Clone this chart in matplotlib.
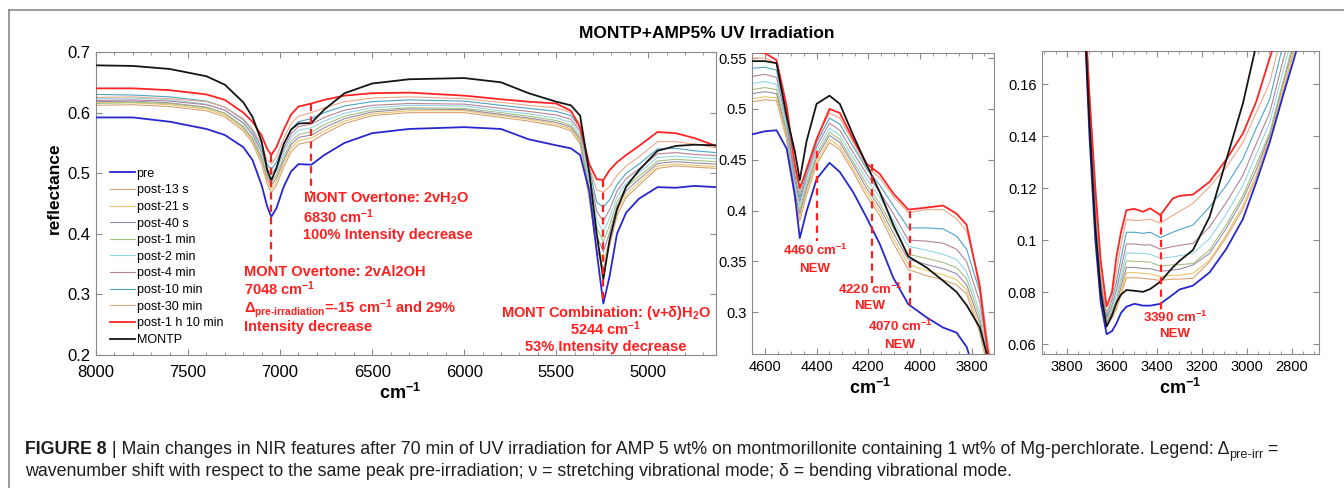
import matplotlib
matplotlib.use("Agg")
import matplotlib.pyplot as plt
from matplotlib.ticker import MultipleLocator, FormatStrFormatter
from matplotlib.lines import Line2D

# series names (legend order)
labels = ["pre", "post-13 s", "post-21 s", "post-40 s", "post-1 min", "post-2 min",
          "post-4 min", "post-10 min", "post-30 min", "post-1 h 10 min", "MONTP"]

# ---- panel a : 8000-4630 cm-1 ----
a_wn = [8000, 7800, 7600, 7400, 7300, 7200, 7150, 7100, 7070, 7048,
        7020, 6980, 6940, 6900, 6830, 6760, 6650, 6500, 6300, 6000,
        5800, 5650, 5500, 5420, 5370, 5320, 5280, 5244, 5210, 5170,
        5120, 5050, 4950, 4850, 4750, 4632]
a_pre = [.592, .592, .585, .573, .563, .543, .522, .480, .445, .428,
         .442, .478, .503, .515, .514, .530, .550, .566, .573, .576,
         .573, .556, .546, .541, .530, .470, .370, .285, .330, .400,
         .435, .458, .477, .476, .479, .477]
a_13s = [.612, .613, .610, .603, .593, .570, .550, .515, .482, .468,
         .480, .510, .535, .548, .552, .565, .582, .595, .600, .600,
         .592, .586, .578, .570, .548, .455, .375, .343, .380, .430,
         .460, .480, .508, .512, .510, .508]
a_21s = [.616, .616, .613, .606, .596, .573, .554, .520, .488, .474,
         .486, .516, .541, .554, .558, .570, .586, .598, .603, .603,
         .595, .589, .581, .573, .552, .462, .385, .354, .390, .437,
         .465, .485, .512, .515, .513, .511]
a_40s = [.618, .619, .616, .609, .599, .576, .557, .524, .493, .480,
         .492, .522, .547, .559, .563, .575, .590, .601, .606, .605,
         .597, .591, .584, .576, .556, .470, .397, .370, .402, .445,
         .471, .490, .516, .519, .517, .515]
a_1m = [.615, .617, .615, .608, .599, .577, .558, .527, .497, .485,
        .497, .527, .552, .564, .568, .580, .594, .604, .608, .607,
        .600, .594, .587, .579, .560, .478, .410, .387, .414, .452,
        .477, .495, .520, .523, .521, .519]
a_2m = [.623, .624, .621, .614, .604, .582, .563, .532, .503, .492,
        .504, .534, .559, .571, .575, .586, .599, .608, .612, .611,
        .603, .598, .591, .584, .565, .488, .423, .403, .426, .461,
        .484, .501, .526, .528, .526, .524]
a_4m = [.620, .621, .619, .613, .604, .583, .565, .536, .508, .498,
        .510, .540, .565, .577, .581, .592, .604, .612, .615, .614,
        .607, .602, .596, .589, .570, .498, .437, .421, .440, .470,
        .491, .507, .532, .534, .531, .529]
a_10m = [.630, .629, .626, .619, .609, .588, .570, .542, .515, .506,
         .518, .548, .573, .585, .590, .600, .611, .618, .621, .619,
         .612, .607, .602, .595, .576, .508, .452, .444, .456, .481,
         .500, .515, .540, .541, .537, .534]
a_30m = [.625, .626, .623, .618, .609, .590, .573, .548, .522, .515,
         .527, .557, .582, .594, .600, .608, .618, .624, .626, .623,
         .617, .612, .608, .600, .582, .510, .472, .469, .478, .496,
         .512, .527, .552, .552, .548, .542]
a_70m = [.640, .640, .637, .630, .621, .600, .585, .562, .540, .530,
         .543, .572, .597, .610, .615, .621, .628, .632, .633, .628,
         .622, .618, .615, .603, .575, .515, .490, .489, .505, .518,
         .530, .545, .568, .566, .558, .545]
a_montp = [.678, .677, .672, .660, .646, .617, .593, .552, .505, .488,
           .508, .548, .572, .582, .583, .605, .632, .648, .655, .657,
           .650, .632, .618, .612, .595, .500, .400, .325, .390, .440,
           .478, .505, .537, .545, .547, .546]

# ---- panel b : 4650-3720 cm-1 ----
b_wn = [4650, 4600, 4555, 4516, 4484, 4465, 4439, 4400, 4350, 4310, 4258,
        4206, 4155, 4103, 4045, 3974, 3910, 3858, 3819, 3768, 3742, 3722]
b_pre = [.475, .478, .479, .461, .415, .373, .399, .431, .447, .438, .418,
         .393, .367, .334, .308, .295, .285, .280, .266, .225, .205, .190]
b_13s = [.507, .509, .508, .470, .410, .390, .415, .445, .467, .460, .438,
         .414, .395, .368, .342, .336, .332, .327, .318, .280, .250, .230]
b_21s = [.510, .512, .511, .473, .414, .393, .418, .448, .470, .463, .441,
         .418, .399, .373, .347, .341, .337, .332, .322, .285, .255, .232]
b_40s = [.515, .517, .515, .477, .418, .397, .422, .452, .474, .467, .445,
         .422, .403, .378, .352, .347, .343, .338, .327, .290, .260, .234]
b_1m = [.519, .521, .519, .480, .422, .400, .426, .455, .477, .470, .448,
        .426, .407, .383, .357, .353, .349, .344, .333, .295, .262, .236]
b_2m = [.525, .527, .524, .484, .426, .405, .430, .459, .481, .474, .452,
        .431, .413, .390, .365, .361, .357, .352, .340, .300, .265, .238]
b_4m = [.532, .534, .531, .488, .430, .409, .434, .463, .486, .479, .457,
        .436, .418, .397, .371, .370, .368, .362, .350, .310, .270, .240]
b_10m = [.540, .541, .538, .492, .435, .413, .438, .467, .491, .485, .463,
         .441, .425, .405, .383, .383, .382, .375, .362, .320, .275, .242]
b_30m = [.550, .550, .545, .498, .440, .417, .442, .471, .496, .491, .467,
         .443, .432, .414, .398, .401, .401, .392, .380, .330, .280, .245]
b_70m = [.557, .555, .548, .503, .445, .422, .440, .470, .500, .496, .470,
         .446, .436, .417, .401, .403, .405, .397, .386, .325, .270, .240]
b_montp = [.547, .547, .545, .493, .458, .430, .468, .505, .513, .505, .474,
           .445, .418, .386, .355, .344, .331, .320, .307, .285, .260, .240]

# ---- panel c : 3910-2680 cm-1 ----
c_wn = [3740, 3700, 3674, 3650, 3624, 3600, 3580, 3560, 3536, 3500,
        3462, 3430, 3385, 3330, 3300, 3240, 3166, 3092, 3018, 2959,
        2899, 2840, 2790, 2740]
c_pre = [.220, .140, .100, .076, .0638, .065, .068, .072, .0744, .0755,
         .0748, .0748, .0755, .079, .081, .0825, .0876, .0966, .1081, .1222,
         .1376, .1555, .170, .185]
c_13s = [.220, .150, .110, .078, .0675, .070, .0735, .079, .0855, .0855,
         .0853, .0850, .0845, .0850, .0850, .0853, .0917, .101, .112, .124,
         .1395, .157, .173, .190]
c_21s = [.220, .151, .111, .079, .068, .071, .0745, .080, .0875, .0875,
         .0872, .0870, .086, .0865, .0865, .0872, .0923, .102, .1133, .125,
         .140, .158, .174, .191]
c_40s = [.220, .152, .112, .080, .0685, .072, .0755, .082, .0895, .0895,
         .0891, .0890, .088, .0885, .0888, .0904, .0949, .1045, .1158, .127,
         .1405, .160, .176, .193]
c_1m = [.220, .153, .113, .081, .069, .073, .077, .084, .092, .0918,
        .0917, .0915, .090, .0905, .0905, .091, .0962, .106, .1172, .129,
        .1414, .161, .177, .194]
c_2m = [.220, .154, .114, .082, .0695, .074, .079, .086, .095, .095,
        .0949, .0945, .093, .0935, .094, .0949, .1006, .110, .121, .133,
        .1452, .165, .181, .198]
c_4m = [.220, .155, .115, .083, .070, .075, .081, .089, .0985, .0985,
        .0981, .0982, .0965, .0975, .098, .0987, .1051, .1145, .1249, .137,
        .149, .169, .185, .202]
c_10m = [.220, .156, .116, .085, .071, .077, .084, .093, .103, .103,
         .1026, .1030, .101, .103, .104, .1058, .1128, .121, .1312, .143,
         .1542, .175, .191, .208]
c_30m = [.220, .158, .118, .087, .072, .078, .088, .098, .108, .1075,
         .1077, .1080, .1065, .1095, .111, .1141, .1205, .128, .1376, .149,
         .1606, .181, .197, .214]
c_70m = [.220, .155, .120, .092, .0745, .080, .0936, .103, .1115, .112,
         .1109, .1122, .1096, .116, .117, .1175, .1224, .131, .141, .1532,
         .170, .185, .200, .215]
c_montp = [.220, .145, .105, .080, .0667, .071, .076, .079, .0808, .0805,
           .0801, .0812, .0840, .0895, .092, .0962, .109, .1308, .1526, .175,
           .200, .220, .240, .260]

colors = ['#2727cf', '#d6a274', '#e9c66c', '#9a8ca6', '#a6c283', '#94d6e4',
          '#b3849a', '#4fa4c6', '#e9a98b', '#ff2424', '#151515']
widths = [1.3, .8, .8, .8, .8, .8, .8, .8, .8, 1.3, 1.3]
RED = '#ff1f1f'
SPINE = '#8a8a8a'

plt.rcParams['font.family'] = ['Liberation Sans', 'DejaVu Sans']
plt.rcParams['mathtext.fontset'] = 'custom'
plt.rcParams['mathtext.rm'] = 'Liberation Sans'
plt.rcParams['mathtext.bf'] = 'Liberation Sans:bold'
plt.rcParams['mathtext.it'] = 'Liberation Sans:italic'

W, H = 1344, 488
fig = plt.figure(figsize=(W / 100, H / 100), dpi=100)


def box(l, t, r, b):
    return [l / W, 1 - b / H, (r - l) / W, (b - t) / H]


def style(ax, size, xpad=4):
    for s in ax.spines.values():
        s.set_color(SPINE)
        s.set_linewidth(0.8)
    ax.tick_params(which='both', direction='in', top=True, right=True,
                   color=SPINE, labelsize=size, pad=4)
    ax.tick_params(axis='x', pad=xpad)
    ax.tick_params(which='major', length=4)
    ax.tick_params(which='minor', length=2)
    ax.yaxis.set_major_formatter(FormatStrFormatter('%g'))


def spectra(ax, wn, series):
    lines = []
    for i, ys in enumerate(series):
        z = 3 if i in (0, 9, 10) else 2
        ln, = ax.plot(wn, ys, color=colors[i], lw=widths[i], label=labels[i], zorder=z)
        lines.append(ln)
    return lines


def dash(ax, x, y0, y1):
    ax.plot([x, x], [y0, y1], color=RED, lw=1.6, ls=(0, (3.2, 2.4)), zorder=5)


def note(ax, x, y, s, size, ha='left'):
    ax.text(x, y, s, color=RED, fontsize=size, fontweight='bold', ha=ha, va='center', zorder=6)


# panel a
ax1 = fig.add_axes(box(96, 52, 716, 355))
lines = spectra(ax1, a_wn, [a_pre, a_13s, a_21s, a_40s, a_1m, a_2m, a_4m,
                            a_10m, a_30m, a_70m, a_montp])
ax1.set_xlim(8000, 4632)
ax1.set_ylim(0.2, 0.7)
ax1.xaxis.set_major_locator(MultipleLocator(500))
ax1.xaxis.set_minor_locator(MultipleLocator(100))
ax1.yaxis.set_major_locator(MultipleLocator(0.1))
style(ax1, 12, xpad=7)
ax1.legend(handles=lines, loc='upper left', bbox_to_anchor=(0.022, 0.618), frameon=False,
           fontsize=9, labelspacing=0.37, handlelength=2.0, handletextpad=0.15,
           borderaxespad=0, borderpad=0)

dash(ax1, 7048, 0.53, 0.352)
dash(ax1, 6830, 0.615, 0.468)
dash(ax1, 5244, 0.489, 0.288)
note(ax1, 6877, 0.457, 'MONT Overtone: 2vH$_\\mathbf{2}$O', 10.5)
note(ax1, 6877, 0.428, '6830 cm$^{\\mathbf{-1}}$', 10.5)
note(ax1, 6877, 0.398, '100% Intensity decrease', 10.5)
note(ax1, 7197, 0.337, 'MONT Overtone: 2vAl2OH', 10.5)
note(ax1, 7197, 0.309, '7048 cm$^{\\mathbf{-1}}$', 10.5)
note(ax1, 7197, 0.277, '\u0394$_{\\mathbf{pre\u2010irradiation}}$=-15 cm$^{\\mathbf{-1}}$ and 29%', 10.5)
note(ax1, 7197, 0.247, 'Intensity decrease', 10.5)
note(ax1, 5229, 0.270, 'MONT Combination: (v+\u03b4)H$_\\mathbf{2}$O', 10.5, 'center')
note(ax1, 5229, 0.243, '5244 cm$^{\\mathbf{-1}}$', 10.5, 'center')
note(ax1, 5229, 0.213, '53% Intensity decrease', 10.5, 'center')

# panel b
ax2 = fig.add_axes(box(752, 53, 994, 354))
spectra(ax2, b_wn, [b_pre, b_13s, b_21s, b_40s, b_1m, b_2m, b_4m,
                    b_10m, b_30m, b_70m, b_montp])
ax2.set_xlim(4650, 3713)
ax2.set_ylim(0.259, 0.555)
ax2.xaxis.set_major_locator(MultipleLocator(200))
ax2.xaxis.set_minor_locator(MultipleLocator(50))
ax2.yaxis.set_major_locator(MultipleLocator(0.05))
style(ax2, 10.5)
dash(ax2, 4400, 0.459, 0.37)
dash(ax2, 4186, 0.446, 0.327)
dash(ax2, 4039, 0.40, 0.301)
note(ax2, 4406, 0.361, '4460 cm$^{\\mathbf{-1}}$', 9.5, 'center')
note(ax2, 4406, 0.343, 'NEW', 9.5, 'center')
note(ax2, 4193, 0.323, '4220 cm$^{\\mathbf{-1}}$', 9.5, 'center')
note(ax2, 4193, 0.306, 'NEW', 9.5, 'center')
note(ax2, 4077, 0.286, '4070 cm$^{\\mathbf{-1}}$', 9.5, 'center')
note(ax2, 4077, 0.268, 'NEW', 9.5, 'center')

# panel c
ax3 = fig.add_axes(box(1042, 51, 1319, 354))
spectra(ax3, c_wn, [c_pre, c_13s, c_21s, c_40s, c_1m, c_2m, c_4m,
                    c_10m, c_30m, c_70m, c_montp])
ax3.set_xlim(3911, 2680)
ax3.set_ylim(0.0562, 0.1727)
ax3.xaxis.set_major_locator(MultipleLocator(200))
ax3.xaxis.set_minor_locator(MultipleLocator(50))
ax3.yaxis.set_major_locator(MultipleLocator(0.02))
style(ax3, 10.5)
dash(ax3, 3382, 0.1096, 0.073)
note(ax3, 3320, 0.0704, '3390 cm$^{\\mathbf{-1}}$', 9.5, 'center')
note(ax3, 3320, 0.0638, 'NEW', 9.5, 'center')

# labels / title
fig.text(707 / W, 1 - 33 / H, 'MONTP+AMP5% UV Irradiation', ha='center', va='center',
         fontsize=12.5, fontweight='bold')
fig.text(54 / W, 1 - 188 / H, 'reflectance', rotation=90, ha='center', va='center',
         fontsize=12.5, fontweight='bold')
for xc, yc in [(400, 393), (870, 388), (1180, 388)]:
    fig.text(xc / W, 1 - yc / H, 'cm$^{\\mathbf{-1}}$', ha='center', va='center',
             fontsize=13, fontweight='bold')

# outer frame
fig.add_artist(Line2D([9 / W, 1], [1 - 10 / H, 1 - 10 / H], transform=fig.transFigure,
                      color='#8a8a8a', lw=1.2))
fig.add_artist(Line2D([9 / W, 9 / W], [1 - 10 / H, 0], transform=fig.transFigure,
                      color='#8a8a8a', lw=1.2))

# caption (two lines, chained pieces on a common baseline)
cap_size = 12.8
cap_kw = dict(fontsize=cap_size, color='#1e1e1e', va='baseline')
base1 = 1 - 454 / H
t0 = fig.text(25 / W, base1, 'FIGURE 8', fontweight='bold', **cap_kw)
fig.canvas.draw()
r = fig.canvas.get_renderer()
bb = t0.get_window_extent(r)
t1 = fig.text(bb.x1 / W, base1, ' | Main changes in NIR features after 70 min of UV irradiation '
              'for AMP 5 wt% on montmorillonite containing 1 wt% of Mg-perchlorate. Legend: \u0394',
              **cap_kw)
fig.canvas.draw()
bb1 = t1.get_window_extent(r)
t2 = fig.text(bb1.x1 / W, base1 - 4 / H, 'pre-irr', **dict(cap_kw, fontsize=cap_size * 0.72))
fig.canvas.draw()
bb2 = t2.get_window_extent(r)
fig.text(bb2.x1 / W, base1, ' =', **cap_kw)
fig.text(25 / W, 1 - 476 / H, 'wavenumber shift with respect to the same peak pre-irradiation; '
         '\u03bd = stretching vibrational mode; \u03b4 = bending vibrational mode.', **cap_kw)

fig.savefig('out.png', dpi=100)
